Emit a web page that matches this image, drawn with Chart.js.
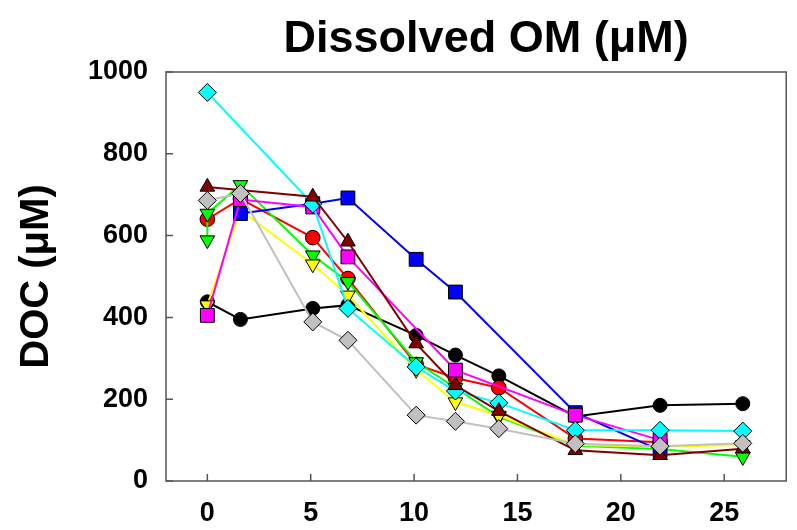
<!DOCTYPE html>
<html>
<head>
<meta charset="utf-8">
<script src="https://cdn.jsdelivr.net/npm/chart.js@4"></script>
<style>
  body { margin: 0; background: #fff; }
  canvas { display: block; }
</style>
</head>
<body>
<canvas id="docChart" width="797" height="530"></canvas>
<script>
// sampling days (x) and DOC readings per treatment (null = no point)
const days = [0, 1.6, 5.1, 6.8, 10.1, 12, 14.1, 17.8, 21.9, 25.9];
const xTicks = [0, 5, 10, 15, 20, 25];
const yTicks = [0, 200, 400, 600, 800, 1000];

const blackVals   = [438, 395, 422, 430, 356, 308, 257, 158, 185, 189];
const blueVals    = [null, 654, 678, 692, 542, 462, null, 167, 75, null];
const redVals     = [640, 690, 595, 495, 285, 252, 228, 104, 95, null];
const greenVals   = [654, 724, 552, 487, 291, 228, 157, 86, 78, 59];
const greenDay0b  = [589];   // extra reading at day 0
const yellowVals  = [430, 662, 530, 454, 272, 193, 160, 88, 84, 88];
const magentaVals = [405, 688, 670, 548, null, 271, null, 161, 100, null];
const cyanVals    = [950, null, 677, 422, 279, 220, 191, 124, 124, 122];
const maroonVals  = [719, null, 695, 585, 336, 234, 171, 75, 63, 79];
const grayVals    = [686, 703, 389, 344, 161, 146, 128, 91, 85, 92];

function pts(vals) {
    return days.map(function(x, i) { return { x: x, y: vals[i] }; })
               .filter(function(p) { return p.y !== null; });
}

// z: higher number is drawn further down
function series(vals, color, style, radius, rotation, z) {
    return {
        data: vals,
        order: z,
        showLine: true,
        borderColor: color,
        borderWidth: 2,
        backgroundColor: color,
        pointBackgroundColor: color,
        pointBorderColor: '#000',
        pointBorderWidth: 1,
        pointStyle: style,
        pointRadius: radius,
        pointHoverRadius: radius,
        pointRotation: rotation || 0
    };
}

var greenPts = greenDay0b.map(function(v) { return { x: 0, y: v }; }).concat(pts(greenVals));

const frame = {
    id: 'frame',
    beforeDatasetsDraw(chart) {
        var ctx = chart.ctx, a = chart.chartArea, sx = chart.scales.x, sy = chart.scales.y;
        ctx.save();
        ctx.strokeStyle = '#555';
        ctx.lineWidth = 1.5;
        ctx.strokeRect(a.left, a.top, a.right - a.left, a.bottom - a.top);
        ctx.beginPath();
        sx.ticks.forEach(function(t) {
            var px = sx.getPixelForValue(t.value);
            ctx.moveTo(px, a.bottom); ctx.lineTo(px, a.bottom - 7);
        });
        sy.ticks.forEach(function(t) {
            var py = sy.getPixelForValue(t.value);
            ctx.moveTo(a.left, py); ctx.lineTo(a.left + 7, py);
        });
        ctx.stroke();
        ctx.restore();
    },
    afterDraw(chart) {
        var ctx = chart.ctx, a = chart.chartArea;
        ctx.save();
        ctx.fillStyle = '#000';
        ctx.font = 'bold 45px "Liberation Sans", Arial, sans-serif';
        ctx.textAlign = 'center';
        ctx.textBaseline = 'middle';
        ctx.fillText('Dissolved OM (μM)', (a.left + a.right) / 2 + 10, 40);
        ctx.restore();
    }
};

var tickFont = { family: '"Liberation Sans", Arial, sans-serif', size: 27, weight: 'bold' };

new Chart(document.getElementById('docChart'), {
    type: 'scatter',
    data: {
        datasets: [
            series(pts(blackVals), '#000000', 'circle', 7, 0, 9),
            series(pts(redVals), '#ff0000', 'circle', 7.3, 0, 8),
            series(greenPts, '#00ff00', 'triangle', 8.5, 180, 7),
            series(pts(yellowVals), '#ffff00', 'triangle', 8.5, 180, 6),
            series(pts(blueVals), '#0000ff', 'rect', 9.8, 0, 5),
            series(pts(magentaVals), '#ff00ff', 'rect', 9.8, 0, 4),
            series(pts(cyanVals), '#00ffff', 'rectRot', 9, 0, 3),
            series(pts(maroonVals), '#800000', 'triangle', 8.5, 0, 2),
            series(pts(grayVals), '#c0c0c0', 'rectRot', 9, 0, 1)
        ]
    },
    options: {
        responsive: false,
        animation: false,
        layout: { padding: { top: 72, right: 5, left: 0, bottom: 0 } },
        plugins: { legend: { display: false }, title: { display: false }, tooltip: { enabled: false } },
        scales: {
            x: {
                type: 'linear',
                min: -2, max: 28,
                afterBuildTicks: function(s) { s.ticks = xTicks.map(function(v) { return { value: v }; }); },
                afterFit: function(s) { s.height = 49; },
                grid: { display: false, drawTicks: false },
                border: { display: false },
                ticks: { color: '#000', padding: 16, font: tickFont, callback: function(v) { return String(v); } }
            },
            y: {
                min: 0, max: 1000,
                afterBuildTicks: function(s) { s.ticks = yTicks.map(function(v) { return { value: v }; }); },
                afterFit: function(s) { s.width = 166; },
                grid: { display: false, drawTicks: false },
                border: { display: false },
                ticks: { color: '#000', padding: 18, font: tickFont, callback: function(v) { return String(v); } },
                title: {
                    display: true,
                    text: 'DOC (μM)',
                    color: '#000',
                    padding: { top: 13, bottom: 0 },
                    font: { family: '"Liberation Sans", Arial, sans-serif', size: 40, weight: 'bold' }
                }
            }
        }
    },
    plugins: [frame]
});
</script>
</body>
</html>
